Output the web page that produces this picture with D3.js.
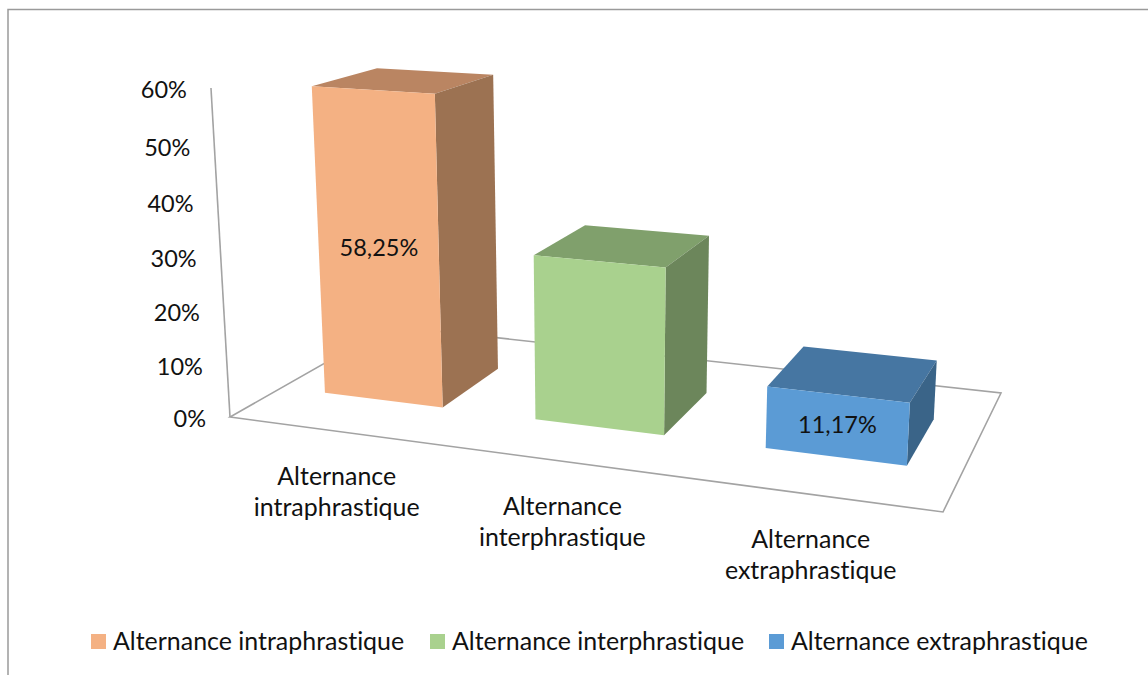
<!DOCTYPE html>
<html lang="fr">
<head>
<meta charset="utf-8">
<script src="https://cdn.jsdelivr.net/npm/d3@7"></script>
<style>
  html, body { margin: 0; padding: 0; background: #fff; }
  svg { display: block; }
  text { font-family: Lato, "Open Sans", sans-serif; fill: #111; font-variant-ligatures: none; }
</style>
</head>
<body>
<svg id="chart" width="1148" height="675"></svg>
<script>
// Chart values
const categories = ["Alternance intraphrastique", "Alternance interphrastique", "Alternance extraphrastique"];
const shares = [58.25, 30.58, 11.17];
const valueLabels = ["58,25%", null, "11,17%"];
const tickValues = [0, 10, 20, 30, 40, 50, 60];

// Face colours per category: front, top, side
const frontColors = ["#f4b183", "#a9d18e", "#5b9bd5"];
const topColors = ["#ba8562", "#80a06c", "#4676a2"];
const sideColors = ["#9c7252", "#6c865b", "#3a6488"];

const svg = d3.select("#chart");
const tickFontSize = 23.5;
const labelFontSize = 24.95;

// Corners of the chart floor on screen: front-left, front-right, back-right, back-left
const [A, B, C, D] = [[230, 417], [943, 512], [1001, 393], [390, 326]];
const verticalVanishing = [604, 6886];

// Perspective transform from the unit floor square to the screen
const dx1 = B[0] - C[0], dy1 = B[1] - C[1], dx2 = D[0] - C[0], dy2 = D[1] - C[1];
const sx = A[0] - B[0] + C[0] - D[0], sy = A[1] - B[1] + C[1] - D[1];
const den = dx1 * dy2 - dx2 * dy1;
const g = (sx * dy2 - dx2 * sy) / den;
const h = (dx1 * sy - sx * dy1) / den;
const m = [
  [B[0] * (1 + g) - A[0], D[0] * (1 + h) - A[0], A[0]],
  [B[1] * (1 + g) - A[1], D[1] * (1 + h) - A[1], A[1]],
  [g, h, 1]
];

// Scales: category along the floor, depth across it, value upward
const band = d3.scaleBand().domain(categories).range([0, 1]).paddingInner(0.43).paddingOuter(0.215);
const depth = d3.scaleLinear().domain([0, 1]).range([0.29, 0.69]);
const lift = d3.scaleLinear().domain([0, 60]).range([0, -0.0484]);

function project(u, d, v) {
  const t = lift(v);
  const x = m[0][0] * u + m[0][1] * d + m[0][2] + t * verticalVanishing[0];
  const y = m[1][0] * u + m[1][1] * d + m[1][2] + t * verticalVanishing[1];
  const w = m[2][0] * u + m[2][1] * d + m[2][2] + t;
  return [x / w, y / w];
}

const poly = pts => "M" + pts.map(p => p.map(n => n.toFixed(2)).join(",")).join("L") + "Z";
const axisColor = "#a3a3a3";

// Outer frame, open on the right and bottom
svg.append("path")
  .attr("d", "M8,675V9.5H1148")
  .attr("fill", "none").attr("stroke", "#9a9a9a").attr("stroke-width", 1.5);

// Floor outline and value axis
svg.append("path")
  .attr("d", poly([project(0, 0, 0), project(1, 0, 0), project(1, 1, 0), project(0, 1, 0)]))
  .attr("fill", "none").attr("stroke", axisColor).attr("stroke-width", 1.6);
svg.append("line")
  .attr("x1", project(0, 0, 0)[0]).attr("y1", project(0, 0, 0)[1])
  .attr("x2", project(0, 0, 60)[0]).attr("y2", project(0, 0, 60)[1])
  .attr("stroke", axisColor).attr("stroke-width", 1.6);

// Value tick labels follow the leaning axis
svg.append("g").selectAll("text").data(tickValues).join("text")
  .attr("x", d => project(0, 0, d)[0] - 24)
  .attr("y", d => project(0, 0, d)[1] + 4.5)
  .attr("text-anchor", "end")
  .attr("dominant-baseline", "middle")
  .attr("font-size", tickFontSize)
  .text(d => d + "%");

// Bars: top, side, then front face
const bars = svg.append("g").selectAll("g").data(categories).join("g");
bars.each(function (cat, i) {
  const u0 = band(cat), u1 = u0 + band.bandwidth();
  const v = shares[i];
  const g3 = d3.select(this);
  g3.append("path").attr("fill", topColors[i]).attr("d", poly([
    project(u0, depth(0), v), project(u1, depth(0), v), project(u1, depth(1), v), project(u0, depth(1), v)]));
  g3.append("path").attr("fill", sideColors[i]).attr("d", poly([
    project(u1, depth(0), 0), project(u1, depth(1), 0), project(u1, depth(1), v), project(u1, depth(0), v)]));
  g3.append("path").attr("fill", frontColors[i]).attr("d", poly([
    project(u0, depth(0), 0), project(u1, depth(0), 0), project(u1, depth(0), v), project(u0, depth(0), v)]));
  if (valueLabels[i]) {
    const c = project((u0 + u1) / 2, depth(0), v / 2);
    g3.append("text")
      .attr("x", c[0] + 1).attr("y", c[1] + 1.5)
      .attr("text-anchor", "middle").attr("dominant-baseline", "middle")
      .attr("font-size", tickFontSize)
      .text(valueLabels[i]);
  }
});

// Category labels, two lines under the front floor edge
const catLabels = svg.append("g").selectAll("text").data(categories).join("text")
  .attr("font-size", labelFontSize)
  .attr("text-anchor", "middle");
catLabels.each(function (cat) {
  const p = project(band(cat) + band.bandwidth() / 2, 0, 0);
  const words = cat.split(" ");
  d3.select(this).selectAll("tspan").data(words).join("tspan")
    .attr("x", p[0] + 1.5)
    .attr("y", (d, j) => p[1] + 54 + j * 31)
    .text(d => d);
});

// Legend
const legendSwatchX = [91, 430, 769];
const legend = svg.append("g").selectAll("g").data(categories).join("g")
  .attr("transform", (d, i) => `translate(${legendSwatchX[i]},634)`);
legend.append("rect").attr("width", 15).attr("height", 15).attr("fill", (d, i) => frontColors[i]);
legend.append("text")
  .attr("x", 22).attr("y", 16)
  .attr("font-size", labelFontSize)
  .text(d => d);
</script>
</body>
</html>
